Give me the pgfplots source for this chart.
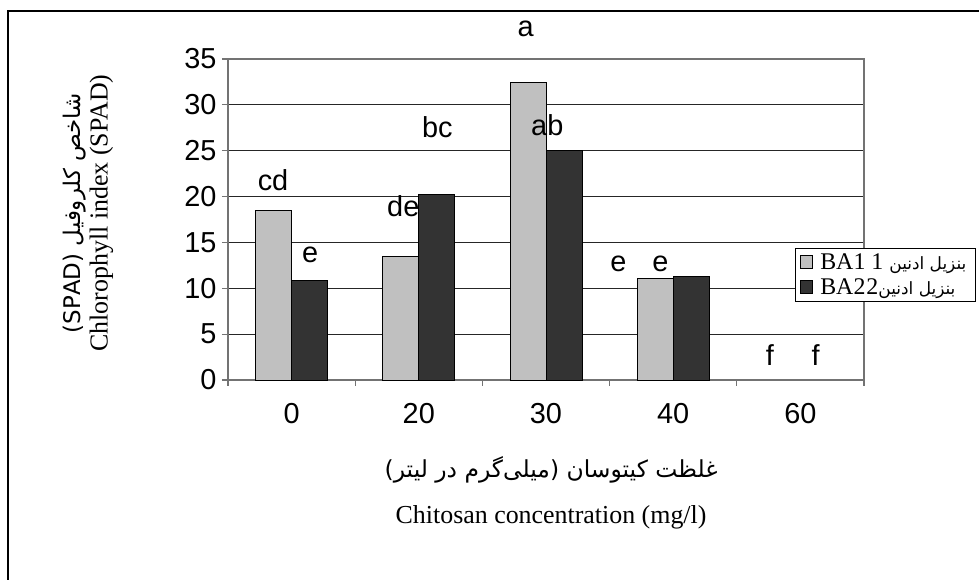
\documentclass[border=0pt]{standalone}
\usepackage{fontspec}
\setmainfont{Liberation Serif}
\newfontfamily\sans{Liberation Sans}
\newfontfamily\arabicfont[Script=Arabic]{DejaVu Sans}
\TeXXeTstate=1
\usepackage{pgfplots}
\pgfplotsset{compat=1.18}
\definecolor{lightbar}{RGB}{192,192,192}
\definecolor{darkbar}{RGB}{51,51,51}

\begin{document}
\begin{tikzpicture}[x=1bp,y=1bp]
\path[use as bounding box] (-228,-200) rectangle (751,380);
% outer chart frame (only left and top edges fall inside the picture)
\draw[line width=1.3bp] (-220,-240) -- (-220,369) -- (800,369);
\begin{axis}[
    at={(0,0)}, anchor=south west,
    scale only axis, width=636bp, height=321bp,
    ybar=0pt, bar width=0.283,
    xmin=-0.5, xmax=4.5,
    ymin=0, ymax=35,
    xtick={-0.5,0.5,...,4.5},
    xticklabels={},
    extra x ticks={0,1,2,3,4},
    extra x tick labels={0,20,30,40,60},
    extra x tick style={major tick length=0pt, grid=none},
    ytick={0,5,...,35},
    tick pos=left,
    ymajorgrids=true,
    major grid style={black!85, line width=0.8bp},
    axis line style={black!55, line width=1.1bp},
    tick style={black!55, line width=1.1bp},
    tick align=outside,
    major tick length=6bp,
    clip=false,
    /pgf/number format/assume math mode=true,
    tick label style={font=\sans\fontsize{29}{29}\selectfont},
    xticklabel style={font=\sans\fontsize{29}{29}\selectfont, yshift=-20bp},
    yticklabel style={font=\sans\fontsize{29}{29}\selectfont, xshift=-2bp},
    legend style={at={(rel axis cs:0.8915,0.411)}, anchor=north west,
        draw=black, line width=1bp, fill=white,
        font=\fontsize{24}{24}\selectfont,
        inner xsep=5bp, inner ysep=3bp, row sep=4bp,
        nodes={inner xsep=4bp}},
    legend cell align=left,
    legend image code/.code={\draw[#1, draw=black, line width=0.8bp] (1bp,-6bp) rectangle (13bp,7bp);},
]
% 60 mg/l: both means are 0, so no bar shows
\addplot[fill=lightbar, draw=black, line width=0.8bp] coordinates {
    (0,18.5) (1,13.5) (2,32.4) (3,11.1)
};
\addplot[fill=darkbar, draw=black, line width=0.8bp] coordinates {
    (0,10.9) (1,20.2) (2,25.0) (3,11.3)
};
\legend{\hspace{3bp}BA1 1 {\arabicfont\fontsize{17}{17}\selectfont\beginR بنزیل ادنین\endR},
        \hspace{3bp}BA2\kern1bp 2{\arabicfont\fontsize{17}{17}\selectfont\beginR بنزیل ادنین\endR}}

% letters of the mean comparison
\begin{scope}[every node/.style={font=\sans\fontsize{29}{29}\selectfont, anchor=base, inner sep=0pt}]
\node at (axis cs:-0.146,20.7) {cd};
\node at (axis cs:0.146,12.8) {e};
\node at (axis cs:0.878,17.8) {de};
\node at (axis cs:1.146,26.4) {bc};
\node at (axis cs:1.84,37.5) {a};
\node at (axis cs:2.01,26.7) {ab};
\node at (axis cs:2.57,11.8) {e};
\node at (axis cs:2.90,11.8) {e};
\node at (axis cs:3.76,1.6) {f};
\node at (axis cs:4.12,1.6) {f};
\end{scope}

% axis titles
\node[xshift=-140bp, align=center, rotate=90, inner sep=0pt] at (rel axis cs:0,0.52)
    {{\arabicfont\fontsize{23}{23}\selectfont\beginR شاخص کلروفیل (SPAD)\endR}\\[3bp]
     {\fontsize{26}{26}\selectfont Chlorophyll index (SPAD)}};
\node[inner sep=0pt, font=\arabicfont\fontsize{23.5}{23.5}\selectfont] at (rel axis cs:0.508,0) [yshift=-90bp]
    {\beginR غلظت کیتوسان (میلی‌گرم در لیتر)\endR};
\node[inner sep=0pt, font=\fontsize{26}{26}\selectfont] at (rel axis cs:0.508,0) [yshift=-137bp]
    {Chitosan concentration (mg/l)};
\end{axis}
\end{tikzpicture}
\end{document}
